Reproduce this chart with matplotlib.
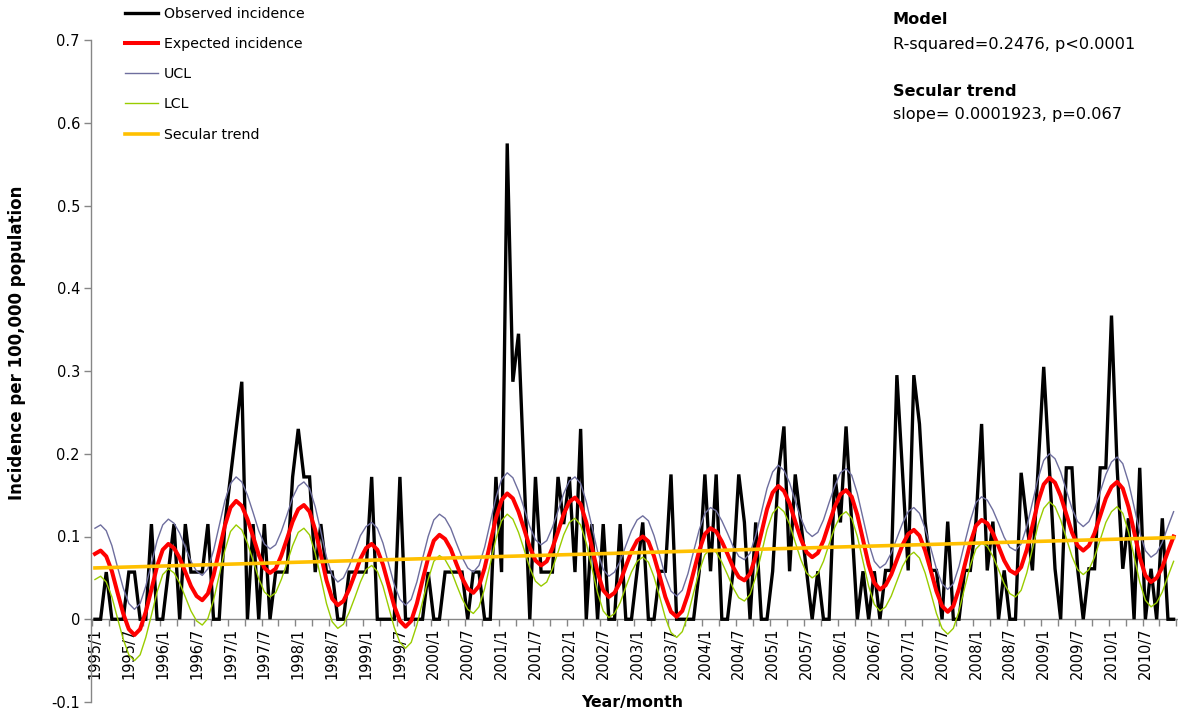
import matplotlib
matplotlib.use("Agg")
import matplotlib.pyplot as plt
from matplotlib.lines import Line2D

# Monthly series, January 1995 to December 2010 (12 values per row)
observed = [
    0, 0, 0.057, 0, 0, 0, 0.057, 0.057, 0, 0, 0.115, 0,
    0, 0.057, 0.115, 0, 0.115, 0.057, 0.057, 0.057, 0.115, 0, 0, 0.115,
    0.172, 0.230, 0.287, 0, 0.115, 0, 0.115, 0, 0.057, 0.057, 0.057, 0.172,
    0.230, 0.172, 0.172, 0.057, 0.115, 0.057, 0.057, 0, 0, 0.057, 0.057, 0.057,
    0.057, 0.172, 0, 0, 0, 0, 0.172, 0, 0, 0, 0, 0.057,
    0, 0, 0.057, 0.057, 0.057, 0.057, 0, 0.057, 0.057, 0, 0, 0.172,
    0.057, 0.575, 0.287, 0.345, 0.172, 0, 0.172, 0.057, 0.057, 0.057, 0.172, 0.115,
    0.172, 0.057, 0.230, 0, 0.115, 0, 0.115, 0, 0, 0.115, 0, 0,
    0.058, 0.117, 0, 0, 0.058, 0.058, 0.175, 0, 0, 0, 0, 0.058,
    0.175, 0.058, 0.175, 0, 0, 0.058, 0.175, 0.117, 0, 0.117, 0, 0,
    0.058, 0.175, 0.233, 0.058, 0.175, 0.117, 0.058, 0, 0.058, 0, 0, 0.175,
    0.117, 0.233, 0.117, 0, 0.058, 0, 0.058, 0, 0.059, 0.059, 0.295, 0.177,
    0.059, 0.295, 0.236, 0.118, 0.059, 0.059, 0, 0.118, 0, 0, 0.059, 0.059,
    0.118, 0.236, 0.059, 0.118, 0, 0.059, 0, 0, 0.177, 0.118, 0.059, 0.183,
    0.305, 0.183, 0.061, 0, 0.183, 0.183, 0.061, 0, 0.061, 0.061, 0.183, 0.183,
    0.367, 0.183, 0.061, 0.122, 0, 0.183, 0, 0.061, 0, 0.122, 0, 0,
]

expected = [
    0.079, 0.083, 0.076, 0.058, 0.032, 0.007, -0.012, -0.019, -0.012, 0.009, 0.036, 0.064,
    0.084, 0.091, 0.086, 0.074, 0.057, 0.040, 0.028, 0.023, 0.031, 0.053, 0.083, 0.113,
    0.135, 0.143, 0.137, 0.121, 0.100, 0.078, 0.062, 0.056, 0.061, 0.077, 0.097, 0.118,
    0.133, 0.138, 0.130, 0.108, 0.078, 0.047, 0.025, 0.017, 0.022, 0.036, 0.054, 0.073,
    0.086, 0.091, 0.084, 0.066, 0.041, 0.016, -0.002, -0.009, -0.002, 0.019, 0.047, 0.074,
    0.095, 0.102, 0.097, 0.085, 0.067, 0.050, 0.037, 0.032, 0.040, 0.062, 0.092, 0.122,
    0.144, 0.152, 0.146, 0.130, 0.109, 0.087, 0.071, 0.065, 0.070, 0.086, 0.106, 0.127,
    0.142, 0.147, 0.139, 0.117, 0.087, 0.057, 0.035, 0.027, 0.032, 0.045, 0.064, 0.082,
    0.095, 0.100, 0.094, 0.076, 0.052, 0.027, 0.009, 0.003, 0.010, 0.030, 0.057, 0.083,
    0.103, 0.110, 0.106, 0.094, 0.079, 0.063, 0.051, 0.047, 0.055, 0.076, 0.104, 0.133,
    0.153, 0.161, 0.155, 0.140, 0.118, 0.097, 0.081, 0.075, 0.080, 0.095, 0.116, 0.136,
    0.151, 0.156, 0.148, 0.126, 0.096, 0.066, 0.044, 0.036, 0.041, 0.054, 0.072, 0.090,
    0.103, 0.108, 0.101, 0.083, 0.059, 0.034, 0.016, 0.009, 0.016, 0.037, 0.065, 0.092,
    0.113, 0.120, 0.116, 0.104, 0.088, 0.071, 0.059, 0.055, 0.063, 0.084, 0.113, 0.142,
    0.163, 0.171, 0.165, 0.149, 0.127, 0.105, 0.089, 0.083, 0.089, 0.104, 0.125, 0.146,
    0.160, 0.166, 0.158, 0.136, 0.106, 0.075, 0.053, 0.045, 0.050, 0.063, 0.082, 0.100,
]

ucl = [
    0.110, 0.114, 0.107, 0.089, 0.063, 0.038, 0.019, 0.012, 0.019, 0.040, 0.067, 0.095,
    0.114, 0.121, 0.116, 0.104, 0.087, 0.070, 0.058, 0.053, 0.061, 0.083, 0.113, 0.143,
    0.164, 0.172, 0.166, 0.150, 0.129, 0.107, 0.091, 0.085, 0.090, 0.106, 0.126, 0.147,
    0.161, 0.166, 0.158, 0.136, 0.106, 0.075, 0.053, 0.045, 0.050, 0.064, 0.082, 0.101,
    0.112, 0.117, 0.110, 0.092, 0.067, 0.042, 0.024, 0.017, 0.024, 0.045, 0.073, 0.100,
    0.120, 0.127, 0.122, 0.110, 0.092, 0.075, 0.062, 0.057, 0.065, 0.087, 0.117, 0.147,
    0.169, 0.177, 0.171, 0.155, 0.134, 0.112, 0.096, 0.090, 0.095, 0.111, 0.131, 0.152,
    0.167, 0.172, 0.164, 0.142, 0.112, 0.082, 0.060, 0.052, 0.057, 0.070, 0.089, 0.107,
    0.120, 0.125, 0.119, 0.101, 0.077, 0.052, 0.034, 0.028, 0.035, 0.055, 0.082, 0.108,
    0.128, 0.135, 0.131, 0.119, 0.104, 0.088, 0.076, 0.072, 0.080, 0.101, 0.129, 0.158,
    0.178, 0.186, 0.180, 0.165, 0.143, 0.122, 0.106, 0.100, 0.105, 0.120, 0.141, 0.161,
    0.177, 0.182, 0.174, 0.152, 0.122, 0.092, 0.070, 0.062, 0.067, 0.080, 0.098, 0.116,
    0.130, 0.135, 0.128, 0.110, 0.086, 0.061, 0.043, 0.036, 0.043, 0.064, 0.092, 0.119,
    0.141, 0.148, 0.144, 0.132, 0.116, 0.099, 0.087, 0.083, 0.091, 0.112, 0.141, 0.170,
    0.192, 0.200, 0.194, 0.178, 0.156, 0.134, 0.118, 0.112, 0.118, 0.133, 0.154, 0.175,
    0.190, 0.196, 0.188, 0.166, 0.136, 0.105, 0.083, 0.075, 0.080, 0.093, 0.112, 0.130,
]

lcl = [
    0.048, 0.052, 0.045, 0.027, 0.001, -0.024, -0.043, -0.050, -0.043, -0.022, 0.005, 0.033,
    0.054, 0.061, 0.056, 0.044, 0.027, 0.010, -0.002, -0.007, 0.001, 0.023, 0.053, 0.083,
    0.106, 0.114, 0.108, 0.092, 0.071, 0.049, 0.033, 0.027, 0.032, 0.048, 0.068, 0.089,
    0.105, 0.110, 0.102, 0.080, 0.050, 0.019, -0.003, -0.011, -0.006, 0.008, 0.026, 0.045,
    0.060, 0.065, 0.058, 0.040, 0.015, -0.010, -0.028, -0.035, -0.028, -0.007, 0.021, 0.048,
    0.070, 0.077, 0.072, 0.060, 0.042, 0.025, 0.012, 0.007, 0.015, 0.037, 0.067, 0.097,
    0.119, 0.127, 0.121, 0.105, 0.084, 0.062, 0.046, 0.040, 0.045, 0.061, 0.081, 0.102,
    0.117, 0.122, 0.114, 0.092, 0.062, 0.032, 0.010, 0.002, 0.007, 0.020, 0.039, 0.057,
    0.070, 0.075, 0.069, 0.051, 0.027, 0.002, -0.016, -0.022, -0.015, 0.005, 0.032, 0.058,
    0.078, 0.085, 0.081, 0.069, 0.054, 0.038, 0.026, 0.022, 0.030, 0.051, 0.079, 0.108,
    0.128, 0.136, 0.130, 0.115, 0.093, 0.072, 0.056, 0.050, 0.055, 0.070, 0.091, 0.111,
    0.125, 0.130, 0.122, 0.100, 0.070, 0.040, 0.018, 0.010, 0.015, 0.028, 0.046, 0.064,
    0.076, 0.081, 0.074, 0.056, 0.032, 0.007, -0.011, -0.018, -0.011, 0.010, 0.038, 0.065,
    0.085, 0.092, 0.088, 0.076, 0.060, 0.043, 0.031, 0.027, 0.035, 0.056, 0.085, 0.114,
    0.134, 0.142, 0.136, 0.120, 0.098, 0.076, 0.060, 0.054, 0.060, 0.075, 0.096, 0.117,
    0.130, 0.136, 0.128, 0.106, 0.076, 0.045, 0.023, 0.015, 0.020, 0.033, 0.052, 0.070,
]

# Secular trend: straight line between the first and last month
trend_months = [0, 191]
trend_values = [0.062, 0.0987]

tick_labels = [
    "1995/1", "1995/7", "1996/1", "1996/7", "1997/1", "1997/7", "1998/1", "1998/7",
    "1999/1", "1999/7", "2000/1", "2000/7", "2001/1", "2001/7", "2002/1", "2002/7",
    "2003/1", "2003/7", "2004/1", "2004/7", "2005/1", "2005/7", "2006/1", "2006/7",
    "2007/1", "2007/7", "2008/1", "2008/7", "2009/1", "2009/7", "2010/1", "2010/7",
]
y_ticks = [-0.1, 0, 0.1, 0.2, 0.3, 0.4, 0.5, 0.6, 0.7]
y_tick_labels = ["-0.1", "0", "0.1", "0.2", "0.3", "0.4", "0.5", "0.6", "0.7"]

months = list(range(len(observed)))

W, H = 1178, 715
fig = plt.figure(figsize=(W / 100, H / 100), dpi=100)
ax = fig.add_axes([91 / W, 13 / H, 1086 / W, 662 / H])

AXIS_GREY = "#868686"
C_OBS = "#000000"
C_EXP = "#FF0000"
C_UCL = "#6E6E9E"
C_LCL = "#99CC00"
C_TREND = "#FFC000"

ax.plot(months, observed, color=C_OBS, lw=2.4, solid_joinstyle="miter", zorder=3)
ax.plot(months, expected, color=C_EXP, lw=2.9, zorder=4)
ax.plot(months, ucl, color=C_UCL, lw=1.0, zorder=5)
ax.plot(months, lcl, color=C_LCL, lw=1.0, zorder=5)
ax.plot(trend_months, trend_values, color=C_TREND, lw=2.6, zorder=6)

ax.set_xlim(-0.7, 191.6)
ax.set_ylim(-0.1, 0.7)

# y axis
ax.set_yticks(y_ticks)
ax.set_yticklabels(y_tick_labels, fontsize=10.5)
ax.tick_params(axis="y", direction="out", length=5, width=1, color=AXIS_GREY, pad=3)

# x axis crosses at zero; marks every 3 months, labels every 6 months
ax.spines["bottom"].set_position(("data", 0))
ax.set_xticks([k - 0.5 for k in range(0, 193, 3)])
ax.set_xticklabels([])
ax.set_xticks(list(range(0, 192, 6)), minor=True)
ax.set_xticklabels(tick_labels, minor=True, rotation=90, fontsize=10.5)
ax.tick_params(axis="x", which="major", direction="out", length=5, width=1, color=AXIS_GREY)
ax.tick_params(axis="x", which="minor", length=0, pad=6)

for side in ("top", "right"):
    ax.spines[side].set_visible(False)
for side in ("left", "bottom"):
    ax.spines[side].set_color(AXIS_GREY)
    ax.spines[side].set_linewidth(1)

fig.text(17 / W, 1 - 343 / H, "Incidence per 100,000 population", rotation=90,
         ha="center", va="center", fontsize=12, fontweight="bold")
fig.text(632 / W, 1 - 702 / H, "Year/month", ha="center", va="center",
         fontsize=11.3, fontweight="bold")

# Legend
handles = [
    Line2D([], [], color=C_OBS, lw=2.4),
    Line2D([], [], color=C_EXP, lw=2.9),
    Line2D([], [], color=C_UCL, lw=1.0),
    Line2D([], [], color=C_LCL, lw=1.0),
    Line2D([], [], color=C_TREND, lw=2.6),
]
labels = ["Observed incidence", "Expected incidence", "UCL", "LCL", "Secular trend"]
fig.legend(handles, labels, loc="upper left", bbox_to_anchor=(125 / W, 1 - 7 / H),
           bbox_transform=fig.transFigure, frameon=False, fontsize=10.2,
           handlelength=2.35, handletextpad=0.38, labelspacing=1.14,
           borderpad=0, borderaxespad=0)

# Model statistics
fig.text(893 / W, 1 - 19 / H, "Model", ha="left", va="center", fontsize=11.6, fontweight="bold")
fig.text(893 / W, 1 - 44 / H, "R-squared=0.2476, p<0.0001", ha="left", va="center", fontsize=11.6)
fig.text(893 / W, 1 - 91 / H, "Secular trend", ha="left", va="center", fontsize=11.6, fontweight="bold")
fig.text(893 / W, 1 - 114 / H, "slope= 0.0001923, p=0.067", ha="left", va="center", fontsize=11.6)

fig.savefig("out.png", dpi=100)
